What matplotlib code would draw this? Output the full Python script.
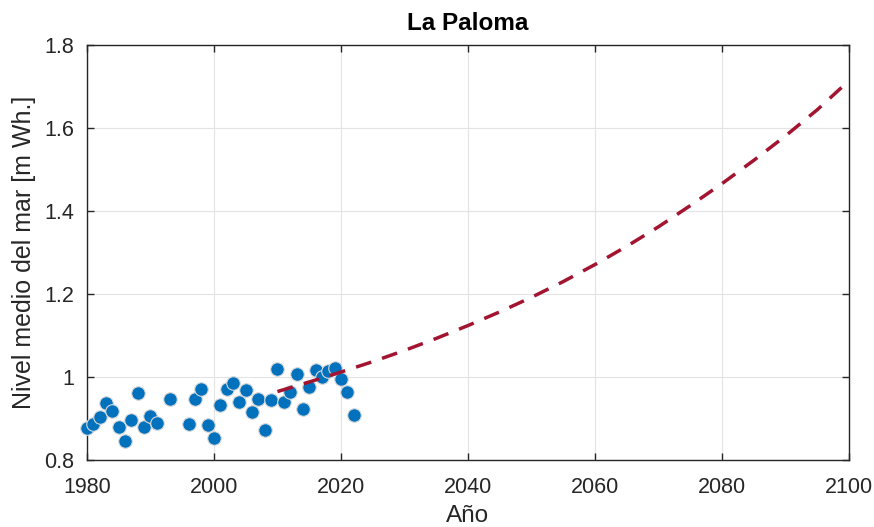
import matplotlib
matplotlib.use("Agg")
import matplotlib.pyplot as plt
from matplotlib.ticker import FuncFormatter

plt.rcParams['font.family'] = ['Liberation Sans', 'DejaVu Sans']

# observed annual mean sea level (m Wh.)
years = [1980, 1981, 1982, 1983, 1984, 1985, 1986, 1987, 1988, 1989, 1990, 1991,
         1993, 1996, 1997, 1998, 1999, 2000, 2001, 2002, 2003, 2004, 2005, 2006,
         2007, 2008, 2009, 2010, 2011, 2012, 2013, 2014, 2015, 2016, 2017, 2018,
         2019, 2020, 2021, 2022]
level = [0.877, 0.887, 0.903, 0.937, 0.918, 0.880, 0.845, 0.896, 0.962, 0.880,
         0.906, 0.888, 0.947, 0.887, 0.947, 0.972, 0.884, 0.854, 0.933, 0.972,
         0.986, 0.939, 0.969, 0.915, 0.946, 0.872, 0.945, 1.020, 0.941, 0.964,
         1.008, 0.923, 0.975, 1.016, 1.001, 1.014, 1.021, 0.996, 0.964, 0.908]

# projection curve
proj_years = [2010, 2015, 2020, 2025, 2030, 2035, 2040, 2045, 2050, 2055,
              2060, 2065, 2070, 2075, 2080, 2085, 2090, 2095, 2100]
proj_level = [0.965, 0.988, 1.012, 1.037, 1.064, 1.093, 1.124, 1.157, 1.192, 1.230,
              1.271, 1.315, 1.362, 1.413, 1.466, 1.522, 1.581, 1.644, 1.714]

xticks = [1980, 2000, 2020, 2040, 2060, 2080, 2100]
yticks = [0.8, 1.0, 1.2, 1.4, 1.6, 1.8]

fig = plt.figure(figsize=(8.74, 5.27), dpi=100)
ax = fig.add_axes([0.0995, 0.1271, 0.8719, 0.7875])

ax.scatter(years, level, s=95, c='#0072BD', edgecolors='#d9d9d9', linewidths=0.8,
           zorder=3, clip_on=False)
ax.plot(proj_years, proj_level, color='#A2142F', lw=2.5, ls=(0, (4.6, 3.3)), zorder=4)

ax.set_xlim(1980, 2100)
ax.set_ylim(0.8, 1.8)
ax.set_xticks(xticks)
ax.set_yticks(yticks)
ax.yaxis.set_major_formatter(FuncFormatter(lambda v, p: '%g' % round(v, 2)))

ax.grid(True, color='#e3e3e3', lw=0.8, zorder=0)
ax.set_axisbelow(True)
ax.tick_params(direction='in', length=5, width=1.0, top=True, right=True,
               labelsize=15.5, colors='#262626')
ax.tick_params(axis='x', pad=12)
ax.tick_params(axis='y', pad=9)
for sp in ax.spines.values():
    sp.set_color('#262626')
    sp.set_linewidth(1.0)

ax.set_xlabel('Año', fontsize=17.5, color='#262626', labelpad=5)
ax.set_ylabel('Nivel medio del mar [m Wh.]', fontsize=18, color='#262626', labelpad=6)
ax.set_title('La Paloma', fontsize=17.5, fontweight='bold', pad=11)

fig.savefig('out.png', dpi=100)
